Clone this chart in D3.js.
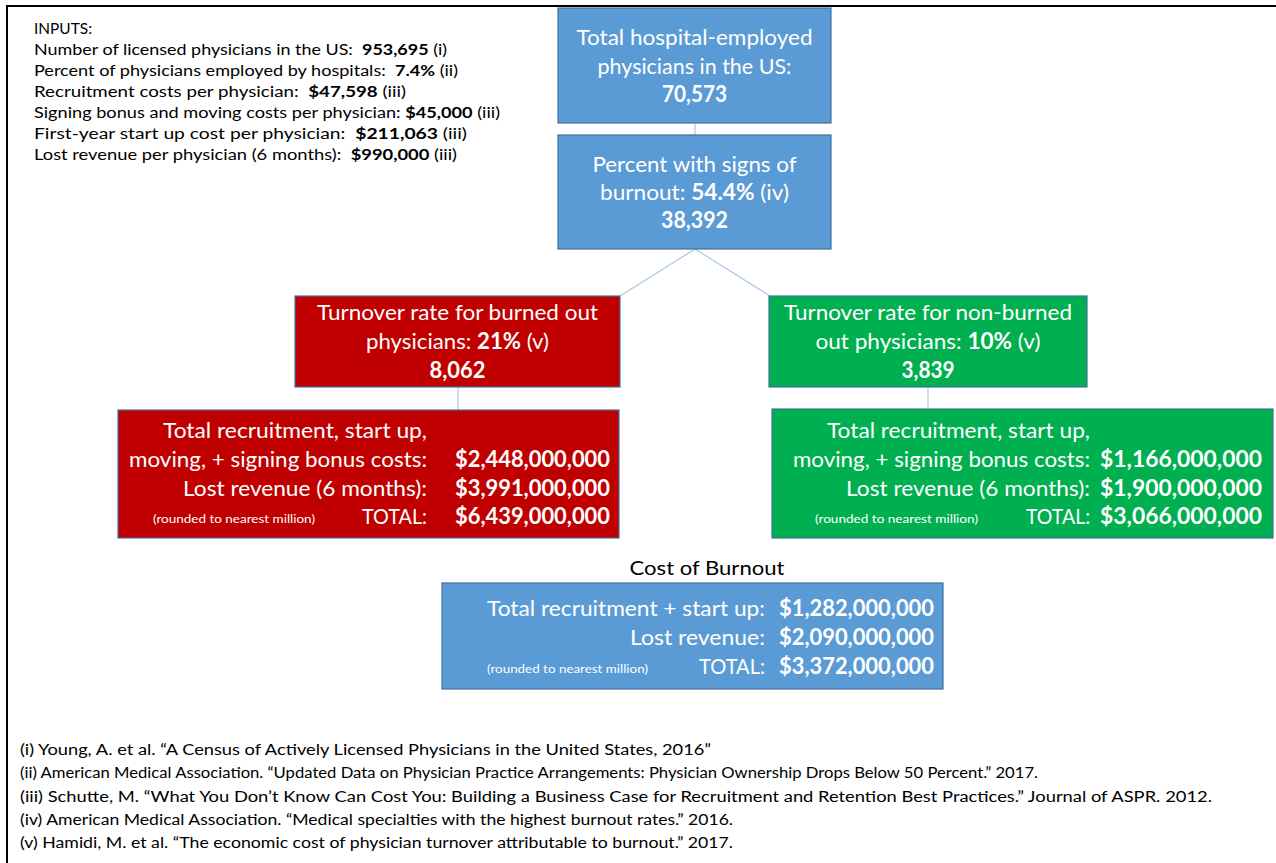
<!DOCTYPE html>
<html>
<head>
<meta charset="utf-8">
<script src="https://cdn.jsdelivr.net/npm/d3@7"></script>
<style>
  html, body { margin: 0; padding: 0; background: #fff; }
  svg { display: block; }
  text { font-family: Lato, "Open Sans", sans-serif; }
</style>
</head>
<body>
<svg id="chart" width="1276" height="863"></svg>
<script>
// ---------------- DATA ----------------
const inputsTitle = "INPUTS:";
const inputLabels = [
  "Number of licensed physicians in the US:  ",
  "Percent of physicians employed by hospitals:  ",
  "Recruitment costs per physician:  ",
  "Signing bonus and moving costs per physician: ",
  "First-year start up cost per physician:  ",
  "Lost revenue per physician (6 months):  "
];
const inputValues = ["953,695", "7.4%", "$47,598", "$45,000", "$211,063", "$990,000"];
const inputRefs = [" (i)", " (ii)", " (iii)", " (iii)", " (iii)", " (iii)"];

const totalLines = [
  [["Total hospital-employed", false]],
  [["physicians in the US:", false]],
  [["70,573", true]]
];
const burnoutLines = [
  [["Percent with signs of", false]],
  [["burnout: ", false], ["54.4%", true], [" (iv)", false]],
  [["38,392", true]]
];
const burnedTurnoverLines = [
  [["Turnover rate for burned out", false]],
  [["physicians: ", false], ["21%", true], [" (v)", false]],
  [["8,062", true]]
];
const nonBurnedTurnoverLines = [
  [["Turnover rate for non-burned", false]],
  [["out physicians: ", false], ["10%", true], [" (v)", false]],
  [["3,839", true]]
];

const groupCostLabels = ["Total recruitment, start up,", "moving, + signing bonus costs:", "Lost revenue (6 months):", "TOTAL:"];
const burnedCostValues = ["", "$2,448,000,000", "$3,991,000,000", "$6,439,000,000"];
const nonBurnedCostValues = ["", "$1,166,000,000", "$1,900,000,000", "$3,066,000,000"];
const roundingNote = "(rounded to nearest million)";

const costTitle = "Cost of Burnout";
const burnoutCostLabels = ["Total recruitment + start up:", "Lost revenue:", "TOTAL:"];
const burnoutCostValues = ["$1,282,000,000", "$2,090,000,000", "$3,372,000,000"];

const footnotes = [
  "(i) Young, A. et al. \u201CA Census of Actively Licensed Physicians in the United States, 2016\u201D",
  "(ii) American Medical Association. \u201CUpdated Data on Physician Practice Arrangements: Physician Ownership Drops Below 50 Percent.\u201D 2017.",
  "(iii) Schutte, M. \u201CWhat You Don\u2019t Know Can Cost You: Building a Business Case for Recruitment and Retention Best Practices.\u201D Journal of ASPR. 2012.",
  "(iv) American Medical Association. \u201CMedical specialties with the highest burnout rates.\u201D 2016.",
  "(v) Hamidi, M. et al. \u201CThe economic cost of physician turnover attributable to burnout.\u201D 2017."
];

// ---------------- STYLE / LAYOUT ----------------
const BLUE = "#5B9BD5", RED = "#C00000", GREEN = "#00B050";
const OUTLINE = "#41719C", CONNECT = "#A9C8E8";

const svg = d3.select("#chart");

function fit(sel, w) {
  if (w) sel.attr("textLength", w).attr("lengthAdjust", "spacingAndGlyphs");
  return sel;
}

function richText(parent, segs, x, y, size, anchor, color, width) {
  const t = parent.append("text")
    .attr("x", x).attr("y", y)
    .attr("text-anchor", anchor)
    .attr("font-size", size)
    .attr("fill", color);
  t.selectAll("tspan").data(segs).join("tspan")
    .attr("font-weight", d => d[1] ? 700 : 400)
    .style("white-space", "pre")
    .text(d => d[0]);
  t.style("white-space", "pre");
  fit(t, width);
  return t;
}

function box(x, y, w, h, fill) {
  svg.append("rect")
    .attr("x", x).attr("y", y).attr("width", w).attr("height", h)
    .attr("fill", fill).attr("stroke", OUTLINE).attr("stroke-width", 1.2);
}

// frame
svg.append("path")
  .attr("d", "M7,863 V6 H1276")
  .attr("fill", "none").attr("stroke", "#000").attr("stroke-width", 2);

// connectors
const connectors = [
  [[695, 123], [695, 135]],
  [[695, 249], [620, 296]],
  [[695, 249], [770, 296]],
  [[458, 387], [458, 410]],
  [[928, 387], [928, 409]]
];
svg.selectAll("line.conn").data(connectors).join("line")
  .attr("class", "conn")
  .attr("x1", d => d[0][0]).attr("y1", d => d[0][1])
  .attr("x2", d => d[1][0]).attr("y2", d => d[1][1])
  .attr("stroke", CONNECT).attr("stroke-width", 1.2);

// inputs
const inputWidths = [413, 424, 372, 466, 433, 423];
fit(svg.append("text").attr("x", 34).attr("y", 34).attr("font-size", 14.5)
  .attr("fill", "#000").text(inputsTitle), 58);
inputLabels.forEach((lab, i) => {
  richText(svg, [[lab, false], [inputValues[i], true], [inputRefs[i], false]],
    34, 55 + i * 21, 14.5, "start", "#000", inputWidths[i]);
});

// flow boxes
function flowBox(x, y, w, h, fill, lines, baselines, widths) {
  box(x, y, w, h, fill);
  lines.forEach((segs, i) => {
    richText(svg, segs, x + w / 2, baselines[i], 22, "middle", "#fff", widths[i]);
  });
}
flowBox(558, 8, 273, 115, BLUE, totalLines, [45, 74, 102], [236, 194, 65]);
flowBox(558, 135, 273, 114, BLUE, burnoutLines, [172, 200, 228], [204, 189, 67]);
flowBox(295, 296, 325, 91, RED, burnedTurnoverLines, [320, 349, 378], [281, 183, 56]);
flowBox(769, 296, 318, 91, GREEN, nonBurnedTurnoverLines, [320, 349, 378], [288, 225, 53]);

// cost boxes
function costBox(x, y, w, h, fill, labels, values, labelEnd, valueEnd, baselines, labelWidths, valueWidth, noteX, noteW) {
  box(x, y, w, h, fill);
  labels.forEach((lab, i) => {
    fit(svg.append("text").attr("x", labelEnd).attr("y", baselines[i])
      .attr("text-anchor", "end").attr("font-size", 22).attr("fill", "#fff")
      .text(lab), labelWidths[i]);
    if (values[i]) {
      fit(svg.append("text").attr("x", valueEnd).attr("y", baselines[i])
        .attr("text-anchor", "end").attr("font-size", 22).attr("font-weight", 700)
        .attr("fill", "#fff").text(values[i]), valueWidth);
    }
  });
  fit(svg.append("text").attr("x", noteX).attr("y", baselines[baselines.length - 1] - 1)
    .attr("font-size", 11.5).attr("fill", "#fff").text(roundingNote), noteW);
}
costBox(118, 410, 501, 128, RED, groupCostLabels, burnedCostValues, 427, 610,
  [438, 467, 496, 524], [264, 298, 244, 65], 155, 153, 162);
costBox(772, 409, 501, 129, GREEN, groupCostLabels, nonBurnedCostValues, 1090, 1262,
  [438, 467, 496, 524], [263, 297, 244, 64], 162, 815, 163);

fit(svg.append("text").attr("x", 707).attr("y", 575).attr("text-anchor", "middle")
  .attr("font-size", 20).attr("fill", "#000").text(costTitle), 155);
costBox(442, 583, 501, 106, BLUE, burnoutCostLabels, burnoutCostValues, 765, 934,
  [616, 645, 674], [278, 135, 66], 155, 487, 161);

// footnotes
const footWidths = [691, 1018, 1192, 713, 713];
svg.selectAll("text.foot").data(footnotes).join("text")
  .attr("class", "foot")
  .attr("x", 20).attr("y", (d, i) => 755 + i * 23.3)
  .attr("font-size", 14.5).attr("fill", "#000")
  .text(d => d)
  .each(function (d, i) { fit(d3.select(this), footWidths[i]); });
</script>
</body>
</html>
